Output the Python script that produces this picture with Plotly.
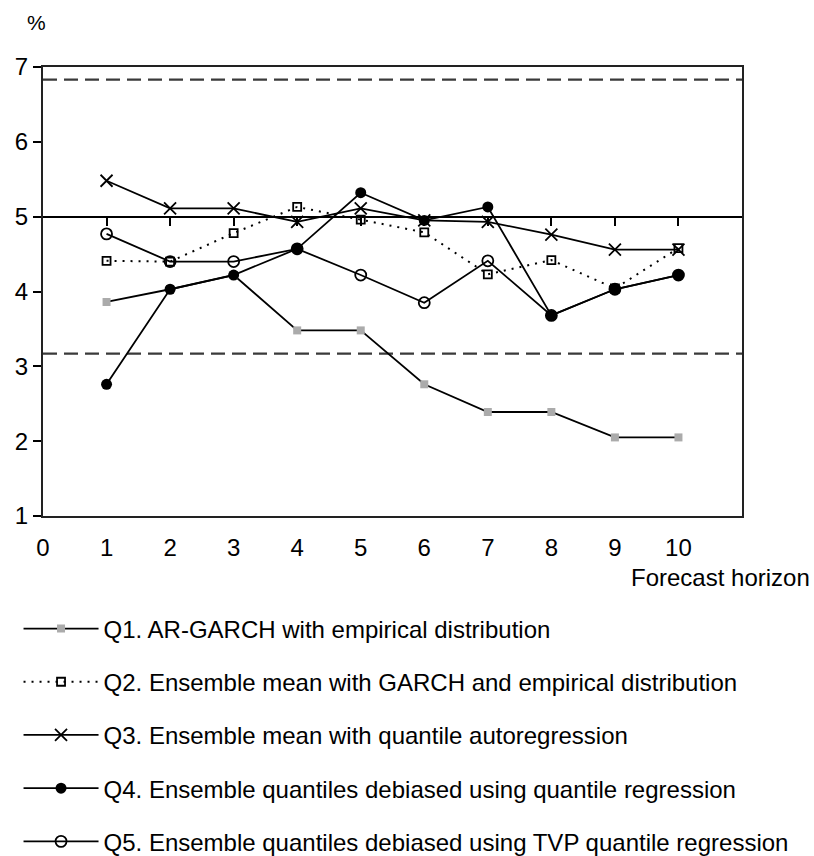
import plotly.graph_objects as go

# Forecast horizons and coverage rates (%) for each quantile method
horizon = [1, 2, 3, 4, 5, 6, 7, 8, 9, 10]
q1_argarch = [3.86, 4.03, 4.22, 3.48, 3.48, 2.76, 2.39, 2.39, 2.05, 2.05]
q2_ens_garch = [4.41, 4.40, 4.78, 5.13, 4.96, 4.79, 4.23, 4.42, 4.04, 4.58]
q3_ens_qar = [5.48, 5.11, 5.11, 4.93, 5.11, 4.95, 4.93, 4.76, 4.56, 4.56]
q4_qr = [2.76, 4.03, 4.22, 4.57, 5.32, 4.95, 5.13, 3.68, 4.03, 4.22]
q5_tvp_qr = [4.77, 4.40, 4.40, 4.57, 4.22, 3.85, 4.41, 3.68, 4.03, 4.22]

names = [
    "Q1. AR-GARCH with empirical distribution",
    "Q2. Ensemble mean with GARCH and empirical distribution",
    "Q3. Ensemble mean with quantile autoregression",
    "Q4. Ensemble quantiles debiased using quantile regression",
    "Q5. Ensemble quantiles debiased using TVP quantile regression",
]

nominal_level = 5.0
band_limits = [6.83, 3.17]
x_ticks = [0, 1, 2, 3, 4, 5, 6, 7, 8, 9, 10]
y_ticks = [1, 2, 3, 4, 5, 6, 7]
x_range = [0, 11]
y_range = [1, 7]

FONT = "Liberation Sans, Arial, sans-serif"

fig = go.Figure()

line = dict(color="black", width=1.8)

fig.add_trace(go.Scatter(
    x=horizon, y=q1_argarch, name=names[0], legendgroup="q1", legendrank=1,
    mode="lines+markers", line=line,
    marker=dict(symbol="square", size=8, color="#ababab"),
))
fig.add_trace(go.Scatter(
    x=horizon, y=q2_ens_garch, name=names[1], legendgroup="q2", legendrank=2,
    mode="lines+markers", line=dict(color="black", width=2, dash="2px,6px"),
    marker=dict(symbol="square-open", size=8, color="black", line=dict(width=1.8)),
))
fig.add_trace(go.Scatter(
    x=horizon, y=q3_ens_qar, name=names[2], legendgroup="q3", legendrank=3,
    mode="lines+markers", line=line,
    marker=dict(symbol="x-thin", size=12, color="black", line=dict(width=1.8, color="black")),
))
fig.add_trace(go.Scatter(
    x=horizon, y=q5_tvp_qr, name=names[4], legendgroup="q5", legendrank=5,
    mode="lines+markers", line=line,
    marker=dict(symbol="circle-open", size=11, color="black", line=dict(width=1.8)),
))
fig.add_trace(go.Scatter(
    x=horizon, y=q4_qr, name=names[3], legendgroup="q4", legendrank=4,
    mode="lines+markers", line=line,
    marker=dict(symbol="circle", size=11, color="black"),
))

# Confidence band around the nominal level
for lim in band_limits:
    fig.add_hline(y=lim, line=dict(color="#3a3a3a", width=2.2, dash="14px,7px"), layer="below")

# Placeholder trace so the nominal-level axis is drawn
fig.add_trace(go.Scatter(x=[], y=[], xaxis="x2", yaxis="y", showlegend=False, hoverinfo="skip"))

fig.update_layout(
    width=814, height=856,
    margin=dict(l=43, r=72, t=67, b=340, autoexpand=False),
    paper_bgcolor="white", plot_bgcolor="white",
    font=dict(family=FONT, size=24, color="black"),
    showlegend=True,
    legend=dict(
        x=-0.035, y=-0.2015, xanchor="left", yanchor="top",
        font=dict(family=FONT, size=24, color="black"),
        tracegroupgap=19, itemwidth=75, bgcolor="rgba(0,0,0,0)",
        traceorder="grouped", maxheight=320,
    ),
    xaxis=dict(
        range=x_range, tickvals=x_ticks, ticks="", showgrid=False, zeroline=False,
        showline=True, linecolor="#222", linewidth=2, mirror=True,
        ticklabelstandoff=9, tickfont=dict(size=24),
    ),
    xaxis2=dict(
        overlaying="x", anchor="free",
        position=(nominal_level - y_range[0]) / (y_range[1] - y_range[0]),
        range=x_range, tickvals=horizon, ticks="outside", ticklen=8, tickwidth=1.5,
        tickcolor="black", showticklabels=False, showline=True, linecolor="black",
        linewidth=2, showgrid=False, zeroline=False,
    ),
    yaxis=dict(
        range=y_range, tickvals=y_ticks, ticks="outside", ticklen=8, tickwidth=1.5,
        tickcolor="black", showgrid=False, zeroline=False, showline=True,
        linecolor="#222", linewidth=2, mirror=True, tickfont=dict(size=24),
    ),
    annotations=[
        dict(text="%", xref="paper", yref="paper", x=-0.009, y=1.098,
             showarrow=False, font=dict(size=21), xanchor="center", yanchor="middle"),
        dict(text="Forecast horizon", xref="paper", yref="paper", x=1.1, y=-0.136,
             showarrow=False, font=dict(size=24), xanchor="right", yanchor="middle"),
    ],
)

fig.write_html("out.html")
